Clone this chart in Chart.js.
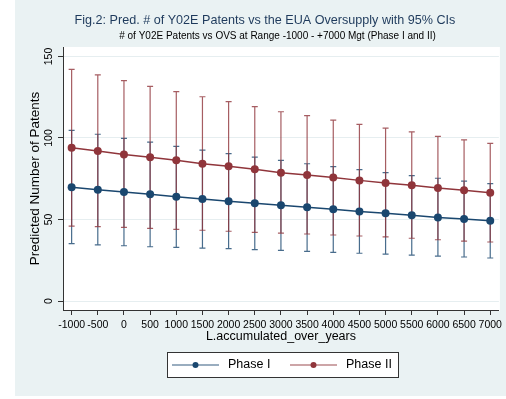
<!DOCTYPE html>
<html>
<head>
<meta charset="utf-8">
<script src="https://cdn.jsdelivr.net/npm/chart.js@4"></script>
<style>
html, body { margin: 0; padding: 0; background: #fff; }
</style>
</head>
<body>
<canvas id="predChart" width="506" height="399"></canvas>
<script>
// EUA oversupply levels (Mgt) on the x axis
const ovsLevels = [-1000, -500, 0, 500, 1000, 1500, 2000, 2500, 3000, 3500, 4000, 4500, 5000, 5500, 6000, 6500, 7000];

// Phase I predictions and 95% CIs
const phase1Pred  = [69.8, 68.3, 66.9, 65.5, 64.0, 62.6, 61.2, 59.9, 58.7, 57.5, 56.3, 54.9, 53.8, 52.6, 51.3, 50.3, 49.3];
const phase1Lower = [35.2, 34.5, 33.9, 33.3, 32.9, 32.5, 32.1, 31.5, 31.1, 30.5, 29.9, 29.3, 28.8, 28.2, 27.6, 27.0, 26.4];
const phase1Upper = [104.7, 102.3, 99.8, 97.4, 94.9, 92.6, 90.4, 88.2, 86.3, 84.2, 82.4, 80.6, 78.7, 76.9, 75.3, 73.6, 72.0];

// Phase II predictions and 95% CIs
const phase2Pred  = [94.0, 92.0, 89.8, 88.2, 86.3, 84.2, 82.6, 80.8, 78.7, 77.3, 75.7, 74.0, 72.4, 71.0, 69.3, 67.9, 66.4];
const phase2Lower = [46.0, 45.6, 45.2, 44.6, 44.0, 43.4, 42.8, 42.1, 41.7, 41.1, 40.5, 39.9, 39.3, 38.5, 37.6, 36.8, 36.2];
const phase2Upper = [142.1, 138.7, 135.2, 131.7, 128.4, 125.3, 122.3, 119.2, 116.1, 113.7, 110.9, 108.4, 106.0, 103.7, 101.0, 98.8, 96.7];

const yTickValues = [0, 50, 100, 150];
const xTickValues = ovsLevels;

const navy = '#1a476f';
const maroon = '#90353b';
const fontFamily = '"Liberation Sans", Arial, Helvetica, sans-serif';

function toPoints(values) {
    return ovsLevels.map((x, i) => ({ x: x, y: values[i] }));
}

// backgrounds (outer light blue-grey, white plot region)
const backgroundPlugin = {
    id: 'stataBackground',
    beforeDraw(chart) {
        const ctx = chart.ctx;
        const area = chart.chartArea;
        ctx.save();
        ctx.fillStyle = '#ffffff';
        ctx.fillRect(0, 0, chart.width, chart.height);
        ctx.fillStyle = '#eaf2f3';
        ctx.fillRect(15, 0, chart.width - 15, 396);
        ctx.fillStyle = '#ffffff';
        ctx.fillRect(area.left, area.top, area.right - area.left + 1, area.bottom - area.top + 1);
        ctx.restore();
    }
};

// 95% CI capped spikes
const ciPlugin = {
    id: 'ciBars',
    beforeDatasetsDraw(chart) {
        const ctx = chart.ctx;
        const xs = chart.scales.x;
        const ys = chart.scales.y;
        const sets = [
            { lo: phase1Lower, hi: phase1Upper, color: 'rgba(26, 71, 111, 0.8)' },
            { lo: phase2Lower, hi: phase2Upper, color: 'rgba(144, 53, 59, 0.8)' }
        ];
        ctx.save();
        ctx.lineWidth = 1.2;
        sets.forEach(set => {
            ctx.strokeStyle = set.color;
            ovsLevels.forEach((x, i) => {
                const px = xs.getPixelForValue(x);
                const pLo = ys.getPixelForValue(set.lo[i]);
                const pHi = ys.getPixelForValue(set.hi[i]);
                ctx.beginPath();
                ctx.moveTo(px, pLo);
                ctx.lineTo(px, pHi);
                ctx.moveTo(px - 3, pLo);
                ctx.lineTo(px + 3, pLo);
                ctx.moveTo(px - 3, pHi);
                ctx.lineTo(px + 3, pHi);
                ctx.stroke();
            });
        });
        ctx.restore();
    }
};

// titles, rotated y tick labels, boxed legend
const decorPlugin = {
    id: 'stataDecor',
    afterDraw(chart) {
        const ctx = chart.ctx;
        const ys = chart.scales.y;
        ctx.save();

        ctx.textAlign = 'center';
        ctx.textBaseline = 'middle';
        ctx.fillStyle = '#1e3a5c';
        ctx.font = '12.6px ' + fontFamily;
        ctx.fillText('Fig.2: Pred. # of Y02E Patents vs the EUA Oversupply with 95% CIs', 265, 20.5);
        ctx.fillStyle = '#000';
        ctx.font = '10px ' + fontFamily;
        ctx.fillText('# of Y02E Patents vs OVS at Range -1000 - +7000 Mgt (Phase I and II)', 277.5, 36);

        // y tick labels, rotated like Stata's vertical labels
        ctx.font = '10.5px ' + fontFamily;
        yTickValues.forEach(v => {
            const py = ys.getPixelForValue(v);
            ctx.save();
            ctx.translate(49, py);
            ctx.rotate(-Math.PI / 2);
            ctx.fillText(String(v), 0, 0);
            ctx.restore();
        });

        // legend
        ctx.fillStyle = '#fff';
        ctx.fillRect(167, 352, 231, 25);
        ctx.strokeStyle = '#333';
        ctx.lineWidth = 1;
        ctx.strokeRect(167.5, 352.5, 231, 25);
        const items = [
            { label: 'Phase I', color: navy, line: 'rgba(26, 71, 111, 0.6)', x: 172 },
            { label: 'Phase II', color: maroon, line: 'rgba(144, 53, 59, 0.6)', x: 290 }
        ];
        ctx.font = '12.5px ' + fontFamily;
        ctx.textAlign = 'left';
        items.forEach(it => {
            ctx.strokeStyle = it.line;
            ctx.lineWidth = 1.5;
            ctx.beginPath();
            ctx.moveTo(it.x, 365);
            ctx.lineTo(it.x + 47, 365);
            ctx.stroke();
            ctx.fillStyle = it.color;
            ctx.beginPath();
            ctx.arc(it.x + 23.5, 365, 3, 0, Math.PI * 2);
            ctx.fill();
            ctx.fillStyle = '#000';
            ctx.fillText(it.label, it.x + 56, 365);
        });
        ctx.restore();
    }
};

const ctx = document.getElementById('predChart').getContext('2d');

const chart = new Chart(ctx, {
    type: 'line',
    data: {
        datasets: [{
            label: 'Phase I',
            data: toPoints(phase1Pred),
            borderColor: navy,
            backgroundColor: navy,
            borderWidth: 1.5,
            pointRadius: 4,
            pointBorderWidth: 0,
            pointBackgroundColor: navy,
            tension: 0,
            fill: false
        }, {
            label: 'Phase II',
            data: toPoints(phase2Pred),
            borderColor: maroon,
            backgroundColor: maroon,
            borderWidth: 1.5,
            pointRadius: 4,
            pointBorderWidth: 0,
            pointBackgroundColor: maroon,
            tension: 0,
            fill: false
        }]
    },
    options: {
        responsive: false,
        animation: false,
        layout: {
            padding: { left: 15, right: 4, top: 47, bottom: 49 }
        },
        plugins: {
            legend: { display: false },
            tooltip: { enabled: false }
        },
        scales: {
            x: {
                type: 'linear',
                min: -1165,
                max: 7165,
                afterBuildTicks: function(scale) {
                    scale.ticks = xTickValues.map(v => ({ value: v }));
                },
                afterFit: function(scale) {
                    scale.height = 40;
                },
                grid: {
                    drawOnChartArea: false,
                    tickLength: 5,
                    tickColor: '#333'
                },
                border: { color: '#333', width: 1 },
                ticks: {
                    autoSkip: false,
                    maxRotation: 0,
                    minRotation: 0,
                    padding: 4,
                    color: '#000',
                    font: { family: fontFamily, size: 10.5 },
                    callback: function(value) {
                        return String(value);
                    }
                },
                title: {
                    display: true,
                    text: 'L.accumulated_over_years',
                    color: '#000',
                    font: { family: fontFamily, size: 12.5 },
                    padding: { top: 0, bottom: 5.5 }
                }
            },
            y: {
                min: -5.5,
                max: 155.8,
                afterBuildTicks: function(scale) {
                    scale.ticks = yTickValues.map(v => ({ value: v }));
                },
                afterFit: function(scale) {
                    scale.width = 48;
                },
                grid: {
                    color: '#e6eef0',
                    tickLength: 5,
                    tickColor: '#333'
                },
                border: { color: '#333', width: 1 },
                ticks: { display: false },
                title: {
                    display: true,
                    text: 'Predicted Number of Patents',
                    color: '#000',
                    font: { family: fontFamily, size: 13.5 },
                    padding: { top: 12, bottom: 0 }
                }
            }
        }
    },
    plugins: [backgroundPlugin, ciPlugin, decorPlugin]
});
</script>
</body>
</html>
